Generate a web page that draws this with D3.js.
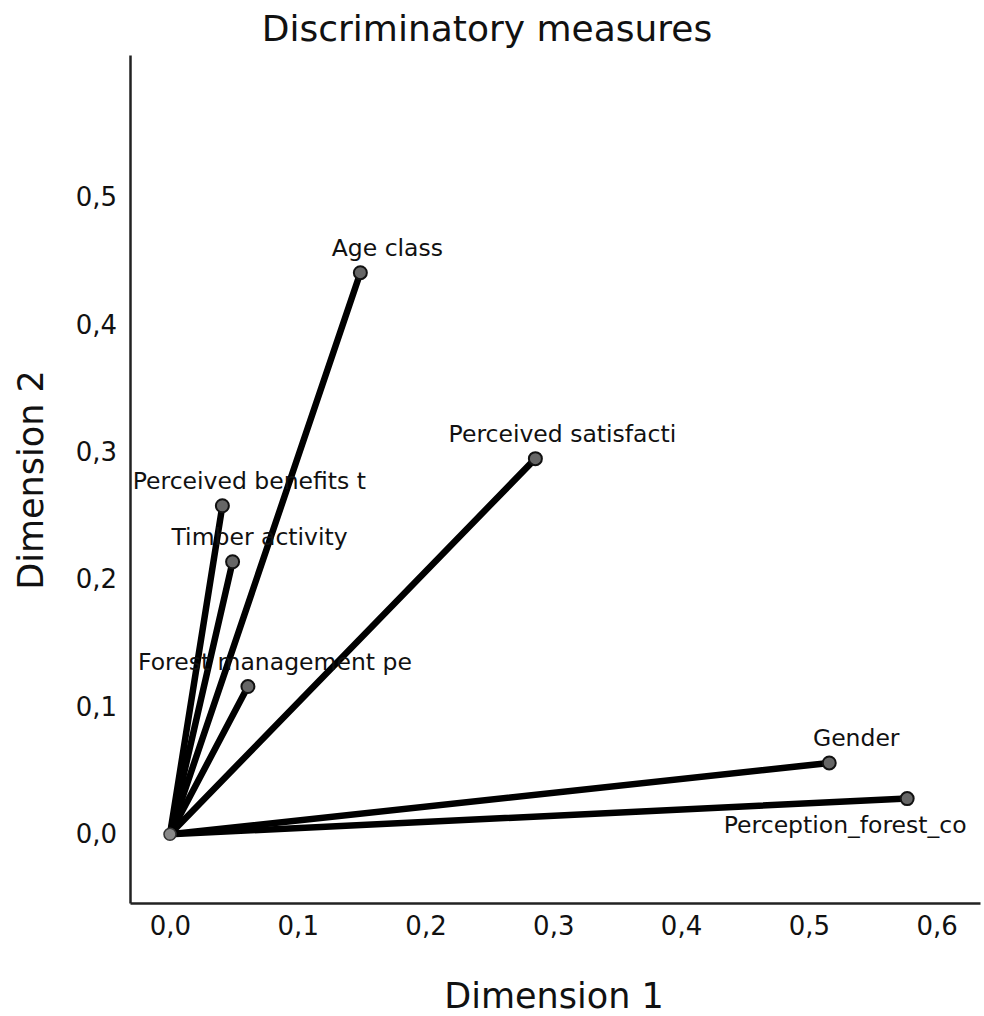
<!DOCTYPE html>
<html>
<head>
<meta charset="utf-8">
<script src="https://cdn.jsdelivr.net/npm/d3@7"></script>
<style>
  body { margin: 0; background: #fff; }
  svg { display: block; font-family: "DejaVu Sans", Verdana, sans-serif; }
</style>
</head>
<body>
<div id="chart"></div>
<script>
// discrimination measures
var variables = ["Age class", "Perceived satisfacti", "Perceived benefits t", "Timber activity",
                 "Forest management pe", "Gender", "Perception_forest_co"];
var dim1 = [0.149, 0.286, 0.041, 0.049, 0.061, 0.516, 0.577];
var dim2 = [0.441, 0.295, 0.258, 0.214, 0.116, 0.056, 0.028];
var xTicks = [0, 0.1, 0.2, 0.3, 0.4, 0.5, 0.6];
var yTicks = [0, 0.1, 0.2, 0.3, 0.4, 0.5];

var width = 984, height = 1016;

var svg = d3.select("#chart").append("svg")
    .attr("width", width)
    .attr("height", height);

// plot frame: y axis at x=130, x axis at y=903
var x = d3.scaleLinear().domain([-0.0313, 0.634]).range([130, 980]);
var y = d3.scaleLinear().domain([-0.054, 0.612]).range([903, 55]);

var fmt = function (d) { return d3.format(".1f")(d).replace(".", ","); };

// x axis
var gx = svg.append("g")
    .attr("transform", "translate(0," + y.range()[0] + ")")
    .call(d3.axisBottom(x).tickValues(xTicks).tickSize(0).tickPadding(14).tickFormat(fmt));
gx.select(".domain").attr("stroke", "#222").attr("stroke-width", 2.5);
gx.selectAll("text").attr("font-size", 26).attr("fill", "#111")
    .attr("font-family", "DejaVu Sans, sans-serif")
    .attr("dy", "0.71em");

// y axis
var gy = svg.append("g")
    .attr("transform", "translate(" + x.range()[0] + ",0)")
    .call(d3.axisLeft(y).tickValues(yTicks).tickSize(0).tickPadding(13).tickFormat(fmt));
gy.select(".domain").attr("stroke", "#222").attr("stroke-width", 2.5);
gy.selectAll("text").attr("font-size", 26).attr("fill", "#111")
    .attr("font-family", "DejaVu Sans, sans-serif");

// vectors from the origin
var rows = variables.map(function (v, i) { return { name: v, d1: dim1[i], d2: dim2[i] }; });

svg.append("g").selectAll("line")
    .data(rows).enter().append("line")
    .attr("x1", x(0)).attr("y1", y(0))
    .attr("x2", function (d) { return x(d.d1); })
    .attr("y2", function (d) { return y(d.d2); })
    .attr("stroke", "#000")
    .attr("stroke-width", 6.5)
    .attr("stroke-linecap", "round");

// origin marker
svg.append("circle")
    .attr("cx", x(0)).attr("cy", y(0)).attr("r", 6)
    .attr("fill", "#888").attr("stroke", "#333").attr("stroke-width", 1.5);

svg.append("g").selectAll("circle")
    .data(rows).enter().append("circle")
    .attr("cx", function (d) { return x(d.d1); })
    .attr("cy", function (d) { return y(d.d2); })
    .attr("r", 6.5)
    .attr("fill", "#666")
    .attr("stroke", "#111")
    .attr("stroke-width", 2);

// labels sit above and a bit right of the point, the last one goes below
svg.append("g").selectAll("text")
    .data(rows).enter().append("text")
    .attr("x", function (d) { return x(d.d1); })
    .attr("y", function (d) { return y(d.d2); })
    .attr("dx", function (d) { return d.name === "Perception_forest_co" ? -62 : 27; })
    .attr("dy", function (d) { return d.name === "Perception_forest_co" ? 34 : -17; })
    .attr("text-anchor", "middle")
    .attr("font-size", 23.5)
    .attr("fill", "#111")
    .text(function (d) { return d.name; });

// titles
svg.append("text")
    .attr("x", 487).attr("y", 41)
    .attr("text-anchor", "middle")
    .attr("font-size", 36)
    .attr("fill", "#111")
    .text("Discriminatory measures");

svg.append("text")
    .attr("x", 554).attr("y", 1008)
    .attr("text-anchor", "middle")
    .attr("font-size", 35)
    .attr("fill", "#111")
    .text("Dimension 1");

svg.append("text")
    .attr("transform", "translate(43,480) rotate(-90)")
    .attr("text-anchor", "middle")
    .attr("font-size", 35)
    .attr("fill", "#111")
    .text("Dimension 2");
</script>
</body>
</html>
